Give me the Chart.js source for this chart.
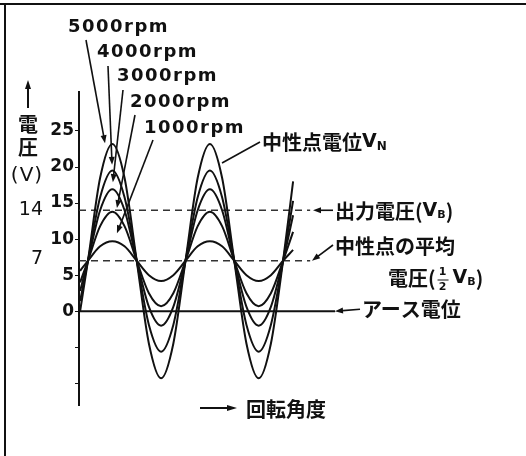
<!DOCTYPE html>
<html>
<head>
<meta charset="utf-8">
<script src="https://cdn.jsdelivr.net/npm/chart.js@4.4.1/dist/chart.umd.min.js"></script>
<style>
body { margin: 0; background: #fff; }
canvas { display: block; }
</style>
</head>
<body>
<canvas id="chart" width="526" height="456"></canvas>
<script>
// rotation angle (deg) of the read points
const angle = [4, 33, 78, 123, 168, 213, 258, 303, 348, 393, 438, 483, 528, 573, 618, 663, 708, 753, 790];
// neutral point voltage V_N at each speed
const rpm1000 = [5.6, 7, 9.0, 9.7, 9.0, 7, 5.0, 4.2, 5.0, 7, 9.0, 9.7, 9.0, 7, 5.0, 4.2, 5.0, 7, 8.5];
const rpm2000 = [4.0, 7, 11.8, 13.8, 11.8, 7, 2.5, 0.7, 2.5, 7, 11.8, 13.8, 11.8, 7, 2.5, 0.7, 2.5, 7, 11.0];
const rpm3000 = [2.8, 7, 14.0, 16.9, 14.0, 7, 0.6, -2.0, 0.6, 7, 14.0, 16.9, 14.0, 7, 0.6, -2.0, 0.6, 7, 13.3];
const rpm4000 = [1.4, 7, 15.8, 19.5, 15.8, 7, -1.9, -5.6, -1.9, 7, 15.8, 19.5, 15.8, 7, -1.9, -5.6, -1.9, 7, 15.3];
const rpm5000 = [0.0, 7, 18.5, 23.2, 18.5, 7, -4.5, -9.3, -4.5, 7, 18.5, 23.2, 18.5, 7, -4.5, -9.3, -4.5, 7, 18.0];

const outputV = 14;     // 出力電圧 VB
const neutralAvg = 7;   // 1/2 VB
const earthV = 0;
const dashedEnd = 853;
const earthEnd = 945;

const yTicks = [-10, -5, 0, 5, 10, 15, 20, 25];
const rpmLabels = ['5000rpm', '4000rpm', '3000rpm', '2000rpm', '1000rpm'];
// where the leader arrows touch the peaks [angle, volt]
const rpmArrowTips = [[96, 23.3], [122, 20.3], [125, 17.9], [140, 14.3], [140, 10.8]];

const JP = '"Noto Sans CJK JP", sans-serif';
const LAT = '"DejaVu Sans", sans-serif';

function pts(vals) {
	return angle.map((a, i) => ({x: a, y: vals[i]}));
}

function hline(v, end) {
	return [{x: 0, y: v}, {x: end, y: v}];
}

function arrow(ctx, x1, y1, x2, y2, head) {
	head = head || 8;
	const a = Math.atan2(y2 - y1, x2 - x1);
	ctx.beginPath();
	ctx.moveTo(x1, y1);
	ctx.lineTo(x2 - Math.cos(a) * head * 0.6, y2 - Math.sin(a) * head * 0.6);
	ctx.stroke();
	ctx.beginPath();
	ctx.moveTo(x2, y2);
	ctx.lineTo(x2 - head * Math.cos(a) + 3 * Math.sin(a), y2 - head * Math.sin(a) - 3 * Math.cos(a));
	ctx.lineTo(x2 - head * Math.cos(a) - 3 * Math.sin(a), y2 - head * Math.sin(a) + 3 * Math.cos(a));
	ctx.closePath();
	ctx.fill();
}

// draws text pieces one after another: [text, font, dy]
function runs(ctx, x, y, parts) {
	for (const p of parts) {
		ctx.font = p[1];
		ctx.fillText(p[0], x, y + (p[2] || 0));
		x += ctx.measureText(p[0]).width;
	}
	return x;
}

const notes = {
	id: 'notes',
	afterDraw(chart) {
		const ctx = chart.ctx;
		const xs = chart.scales.x, ys = chart.scales.y;
		const jp = 'bold 20px ' + JP;
		ctx.save();
		ctx.fillStyle = '#111';
		ctx.strokeStyle = '#111';
		ctx.textBaseline = 'middle';
		ctx.textAlign = 'left';

		// frame
		ctx.lineWidth = 2;
		ctx.beginPath();
		ctx.moveTo(0, 4); ctx.lineTo(526, 4);
		ctx.moveTo(5, 4); ctx.lineTo(5, 456);
		ctx.stroke();

		// y title
		ctx.lineWidth = 2;
		arrow(ctx, 28, 108, 28, 80, 9);
		ctx.textAlign = 'center';
		ctx.font = 'bold 20px ' + JP;
		ctx.fillText('電', 28, 124);
		ctx.fillText('圧', 28, 147);
		ctx.font = '20px ' + LAT;
		ctx.letterSpacing = '1px';
		ctx.fillText('(V)', 27, 176);
		ctx.letterSpacing = '0px';
		ctx.font = '19px ' + LAT;
		ctx.textAlign = 'right';
		ctx.fillText('14', 43, ys.getPixelForValue(outputV));
		ctx.fillText('7', 43, ys.getPixelForValue(neutralAvg) - 2);
		ctx.textAlign = 'left';

		// rpm labels and leaders
		const labPos = [[68, 27], [97, 52], [117, 76], [130, 102], [144, 128]];
		const leadFrom = [[86, 40], [108, 66], [123, 90], [135, 115], [153, 140]];
		ctx.font = 'bold 18px ' + LAT;
		ctx.letterSpacing = '1.5px';
		rpmLabels.forEach((t, i) => ctx.fillText(t, labPos[i][0], labPos[i][1]));
		ctx.letterSpacing = '0px';
		ctx.lineWidth = 1.6;
		rpmArrowTips.forEach((p, i) => {
			arrow(ctx, leadFrom[i][0], leadFrom[i][1], xs.getPixelForValue(p[0]), ys.getPixelForValue(p[1]), 8);
		});

		// V_N
		ctx.beginPath();
		ctx.moveTo(222, 163); ctx.lineTo(260, 142);
		ctx.stroke();
		runs(ctx, 262, 142, [['中性点電位', jp], ['V', 'bold 19px ' + LAT], ['N', 'bold 12px ' + LAT, 5]]);

		// output voltage
		const y14 = ys.getPixelForValue(outputV);
		arrow(ctx, 333, y14, 313, y14, 8);
		runs(ctx, 335, y14 + 1, [['出力電圧(', jp], ['V', 'bold 19px ' + LAT], ['B', 'bold 11px ' + LAT, 4], [')', jp]]);

		// neutral mean
		const y7 = ys.getPixelForValue(neutralAvg);
		arrow(ctx, 333, 245, 312, y7, 8);
		runs(ctx, 335, 246, [['中性点の平均', jp]]);
		let x = runs(ctx, 388, 278, [['電圧(', jp]]);
		ctx.textAlign = 'center';
		ctx.font = 'bold 11px ' + LAT;
		ctx.fillText('1', x + 7, 272);
		ctx.fillText('2', x + 7, 287);
		ctx.lineWidth = 1;
		ctx.beginPath();
		ctx.moveTo(x + 2, 280); ctx.lineTo(x + 13, 280);
		ctx.stroke();
		ctx.textAlign = 'left';
		runs(ctx, x + 17, 278, [['V', 'bold 19px ' + LAT], ['B', 'bold 11px ' + LAT, 4], [')', jp]]);

		// earth
		const y0 = ys.getPixelForValue(earthV);
		ctx.lineWidth = 1.6;
		arrow(ctx, 360, y0 - 2, 335, y0, 8);
		runs(ctx, 362, y0 - 2, [['アース電位', jp]]);

		// x title
		ctx.lineWidth = 2;
		arrow(ctx, 200, 408, 237, 408, 10);
		runs(ctx, 246, 409, [['回転角度', jp]]);

		ctx.restore();
	}
};

const curve = (vals) => ({
	data: pts(vals),
	borderColor: '#111',
	borderWidth: 2,
	pointRadius: 0,
	cubicInterpolationMode: 'monotone'
});

new Chart(document.getElementById('chart'), {
	type: 'line',
	data: {
		datasets: [
			curve(rpm1000), curve(rpm2000), curve(rpm3000), curve(rpm4000), curve(rpm5000),
			{data: hline(outputV, dashedEnd), borderColor: '#333', borderWidth: 1.6, borderDash: [7, 5], pointRadius: 0},
			{data: hline(neutralAvg, dashedEnd), borderColor: '#333', borderWidth: 1.6, borderDash: [7, 5], pointRadius: 0},
			{data: hline(earthV, earthEnd), borderColor: '#111', borderWidth: 1.8, pointRadius: 0}
		]
	},
	options: {
		responsive: false,
		animation: false,
		layout: {padding: {left: 0, top: 92, right: 176, bottom: 51}},
		plugins: {legend: {display: false}, tooltip: {enabled: false}},
		scales: {
			x: {type: 'linear', min: 0, max: 1000, display: false},
			y: {
				min: -13, max: 30.4,
				afterBuildTicks: (s) => { s.ticks = yTicks.map(v => ({value: v})); },
				afterFit: (s) => { s.width = 79; },
				border: {display: true, color: '#111', width: 2},
				grid: {drawOnChartArea: false, drawTicks: true, tickLength: 4, color: '#111', lineWidth: 1},
				ticks: {
					padding: 1,
					color: '#111',
					font: {family: 'DejaVu Sans', size: 17, weight: 'bold'},
					callback: (v) => v >= 0 ? String(v) : ''
				}
			}
		}
	},
	plugins: [notes]
});
</script>
</body>
</html>
